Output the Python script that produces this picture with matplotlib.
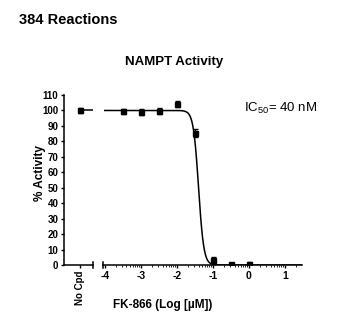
import matplotlib

matplotlib.use("Agg")
import matplotlib.pyplot as plt
import numpy as np

plt.rcParams["font.family"] = ["Liberation Sans", "DejaVu Sans"]
plt.rcParams["mathtext.default"] = "regular"

# dose-response readings (log10 of µM)
log_conc = [-3.5, -3.0, -2.5, -2.0, -1.5, -1.0, -0.5, 0.0]
activity = [99.5, 99.0, 99.5, 104.0, 85.5, 3.0, 0.5, 0.5]
activity_err = [1.5, 2.0, 2.0, 2.0, 2.5, 2.5, 1.0, 1.5]

no_cpd_activity = 100.0
no_cpd_err = 1.5

# four-parameter logistic fit
fit_top = 100.0
fit_bottom = 0.0
fit_log_ic50 = np.log10(0.040)
fit_hill = 6.0

x_ticks = [-4, -3, -2, -1, 0, 1]
y_ticks = list(range(0, 111, 10))


def logistic(x):
    return fit_bottom + (fit_top - fit_bottom) / (1 + 10 ** (fit_hill * (x - fit_log_ic50)))


fig = plt.figure(figsize=(3.49, 3.32), dpi=100)
ax_left = fig.add_axes([0.1834, 0.2018, 0.0831, 0.512])
ax_main = fig.add_axes([0.2951, 0.2018, 0.570, 0.512], sharey=ax_left)

mark = dict(fmt="s", color="black", markersize=3.6, elinewidth=1.0, capsize=1.8, capthick=1.0)

# "No Cpd" control on its own broken segment
ax_left.errorbar([0.55], [no_cpd_activity], yerr=[no_cpd_err], **mark)
ax_left.plot([0.55, 1.0], [fit_top, fit_top], color="black", lw=1.1)
ax_left.set_xlim(0, 1)
ax_left.set_ylim(0, 110)
ax_left.set_xticks([0.55])
ax_left.set_xticklabels(["No Cpd"], rotation=90, fontweight="bold", fontsize=7)
ax_left.set_yticks(y_ticks)
ax_left.set_yticklabels([str(v) for v in y_ticks], fontweight="bold", fontsize=7)
ax_left.tick_params(axis="both", direction="out", length=2.5, width=1.0, pad=1.5)
for side in ("top", "right"):
    ax_left.spines[side].set_visible(False)
for side in ("left", "bottom"):
    ax_left.spines[side].set_linewidth(1.1)
ax_left.plot([1.0, 1.0], [-0.018, 0.018], transform=ax_left.transAxes,
             color="black", lw=1.1, clip_on=False)
ax_left.set_ylabel("% Activity", fontweight="bold", fontsize=8.5)
ax_left.yaxis.set_label_coords(-0.62, 0.54)

# concentration series and fitted curve
x_fit = np.linspace(-4.0, 1.47, 400)
ax_main.plot(x_fit, logistic(x_fit), color="black", lw=1.1)
ax_main.errorbar(log_conc, activity, yerr=activity_err, **mark)
ax_main.set_xlim(-4.05, 1.47)
ax_main.set_xticks(x_ticks)
ax_main.set_xticklabels([str(v) for v in x_ticks], fontweight="bold", fontsize=7.5)
minor = [d + np.log10(k) for d in range(-4, 2) for k in range(2, 10)]
ax_main.set_xticks([m for m in minor if m < 1.47], minor=True)
ax_main.tick_params(axis="x", which="major", direction="out", length=2.5, width=1.0, pad=2)
ax_main.tick_params(axis="x", which="minor", direction="out", length=1.5, width=0.6)
ax_main.tick_params(axis="y", left=False, labelleft=False)
for side in ("top", "right", "left"):
    ax_main.spines[side].set_visible(False)
ax_main.spines["bottom"].set_linewidth(1.1)
ax_main.plot([0.0, 0.0], [-0.018, 0.018], transform=ax_main.transAxes,
             color="black", lw=1.1, clip_on=False)
ax_main.set_xlabel("FK-866 (Log [µM])", fontweight="bold", fontsize=8.5)
ax_main.xaxis.set_label_coords(0.30, -0.2)

ax_main.text(0.71, 0.92, "IC$_{50}$= 40 nM", transform=ax_main.transAxes, fontsize=9.5, va="center")

fig.text(0.50, 0.813, "NAMPT Activity", ha="center", va="center", fontweight="bold", fontsize=9.5)
fig.text(0.055, 0.94, "384 Reactions", ha="left", va="center", fontweight="bold", fontsize=10.5)

fig.savefig("out.png", dpi=100)
